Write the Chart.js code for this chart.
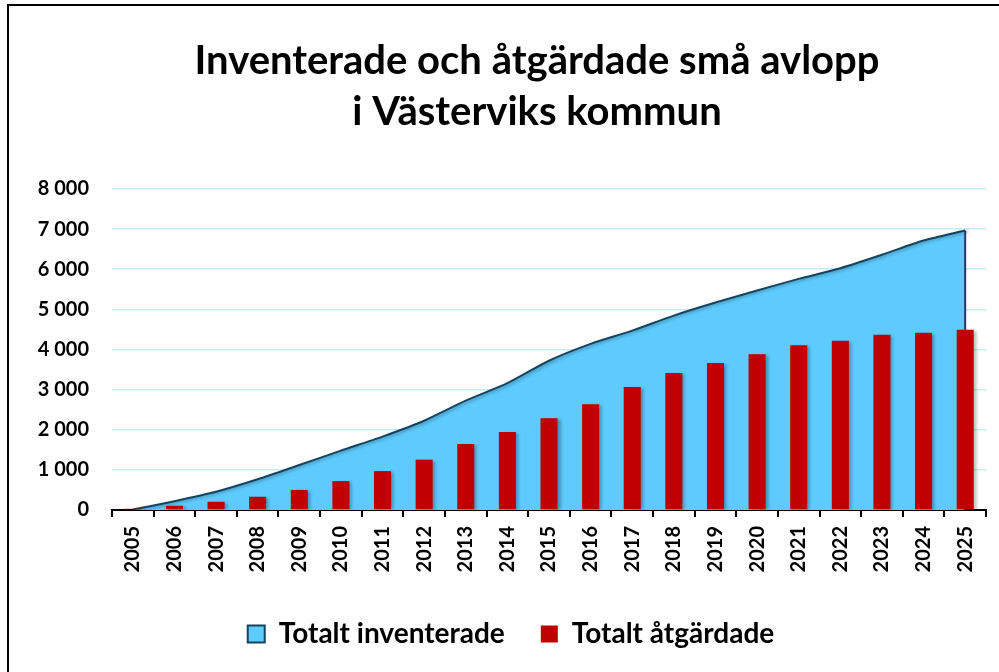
<!DOCTYPE html>
<html lang="sv">
<head>
<meta charset="utf-8">
<title>Inventerade och åtgärdade små avlopp</title>
<script src="https://cdn.jsdelivr.net/npm/chart.js@4.4.1/dist/chart.umd.min.js"></script>
<style>
  html, body { margin: 0; padding: 0; background: #fff; overflow: hidden; }
  #frame {
    position: absolute; left: 7px; top: 4px; width: 1100px; height: 700px;
    border-left: 2px solid #000; border-top: 2px solid #000;
  }
  #chart { position: absolute; left: 0; top: 0; }
</style>
</head>
<body>
<div id="frame"></div>
<canvas id="chart" width="999" height="672"></canvas>
<script>
// data
const years = ['2005', '2006', '2007', '2008', '2009', '2010', '2011', '2012', '2013', '2014', '2015',
  '2016', '2017', '2018', '2019', '2020', '2021', '2022', '2023', '2024', '2025'];
const inventerade = [10, 220, 455, 765, 1120, 1480, 1830, 2225, 2725, 3160, 3720,
  4140, 4470, 4845, 5170, 5470, 5760, 6025, 6360, 6715, 6965];
const atgardade = [30, 105, 205, 330, 500, 720, 970, 1255, 1645, 1945, 2285,
  2635, 3065, 3415, 3665, 3880, 4105, 4220, 4365, 4420, 4495];
const yTicks = [0, 1000, 2000, 3000, 4000, 5000, 6000, 7000, 8000];

const titleLines = ['Inventerade och åtgärdade små avlopp', 'i Västerviks kommun'];
const FONT = 'Lato, "Open Sans", sans-serif';

function formatNumber(v) {
  return String(v).replace(/\B(?=(\d{3})+(?!\d))/g, ' ');
}

// soft drop shadow under the area and the bars, like the office chart
const shadowPlugin = {
  id: 'shadow',
  beforeDatasetDraw(chart, args) {
    const ctx = chart.ctx;
    ctx.save();
    ctx.shadowColor = 'rgba(0, 0, 0, 0.28)';
    ctx.shadowBlur = 3;
    ctx.shadowOffsetX = 3;
    ctx.shadowOffsetY = 1;
  },
  afterDatasetDraw(chart, args) {
    chart.ctx.restore();
    // close the area with its outline down to zero on the last year
    if (args.index === 0) {
      const pts = args.meta.data;
      const last = pts[pts.length - 1];
      const y0 = chart.scales.y.getPixelForValue(0);
      const ctx = chart.ctx;
      ctx.save();
      ctx.strokeStyle = '#15435f';
      ctx.lineWidth = 2;
      ctx.beginPath();
      ctx.moveTo(last.x, last.y);
      ctx.lineTo(last.x, y0);
      ctx.stroke();
      ctx.restore();
    }
  }
};

// the reference is a crop: title and legend are not centered on the visible width
const centerPlugin = {
  id: 'recenter',
  afterLayout(chart) {
    const t = chart.titleBlock;
    if (t) {
      const d = 537 - (t.left + t.right) / 2;
      t.left += d; t.right += d;
    }
    const l = chart.legend;
    if (l) {
      const d = 511 - (l.left + l.right) / 2;
      l.left += d; l.right += d;
    }
  }
};

const ctx = document.getElementById('chart').getContext('2d');
new Chart(ctx, {
  type: 'bar',
  data: {
    labels: years,
    datasets: [
      {
        type: 'line',
        label: 'Totalt inventerade',
        data: inventerade,
        fill: 'origin',
        backgroundColor: '#5ecbfd',
        borderColor: '#15435f',
        borderWidth: 2,
        tension: 0.25,
        pointRadius: 0,
        order: 2
      },
      {
        label: 'Totalt åtgärdade',
        data: atgardade,
        backgroundColor: '#c00000',
        borderWidth: 0,
        barPercentage: 0.41,
        categoryPercentage: 1,
        order: 1
      }
    ]
  },
  options: {
    responsive: false,
    animation: false,
    layout: { padding: { left: 0, right: 13, top: 0, bottom: 14 } },
    plugins: {
      title: {
        display: true,
        text: titleLines,
        color: '#000',
        font: { family: FONT, size: 40, weight: 'bold', lineHeight: 51 / 40 },
        padding: { top: 36, bottom: 51 }
      },
      legend: {
        position: 'bottom',
        labels: {
          sort: (a, b) => a.datasetIndex - b.datasetIndex,
          color: '#000',
          font: { family: FONT, size: 28, weight: 'bold' },
          boxWidth: 17,
          boxHeight: 17,
          padding: 36
        }
      },
      tooltip: { enabled: false }
    },
    scales: {
      x: {
        offset: true,
        grid: {
          display: true,
          drawOnChartArea: false,
          drawTicks: true,
          tickLength: 7,
          color: '#000',
          lineWidth: 2
        },
        border: { display: true, color: '#000', width: 2 },
        ticks: {
          color: '#000',
          font: { family: FONT, size: 20, weight: 'bold' },
          minRotation: 90,
          maxRotation: 90,
          autoSkip: false,
          padding: 9
        },
        afterFit(scale) { scale.height = 74; }
      },
      y: {
        min: 0,
        max: 8000,
        afterBuildTicks(scale) { scale.ticks = yTicks.map(v => ({ value: v })); },
        grid: { color: '#c5ebfa', lineWidth: 1.6, drawTicks: false },
        border: { display: false },
        ticks: {
          color: '#000',
          font: { family: FONT, size: 20, weight: 'bold' },
          padding: 23,
          callback: v => formatNumber(v)
        },
        afterFit(scale) { scale.width = 112; }
      }
    }
  },
  plugins: [shadowPlugin, centerPlugin]
});
</script>
</body>
</html>
